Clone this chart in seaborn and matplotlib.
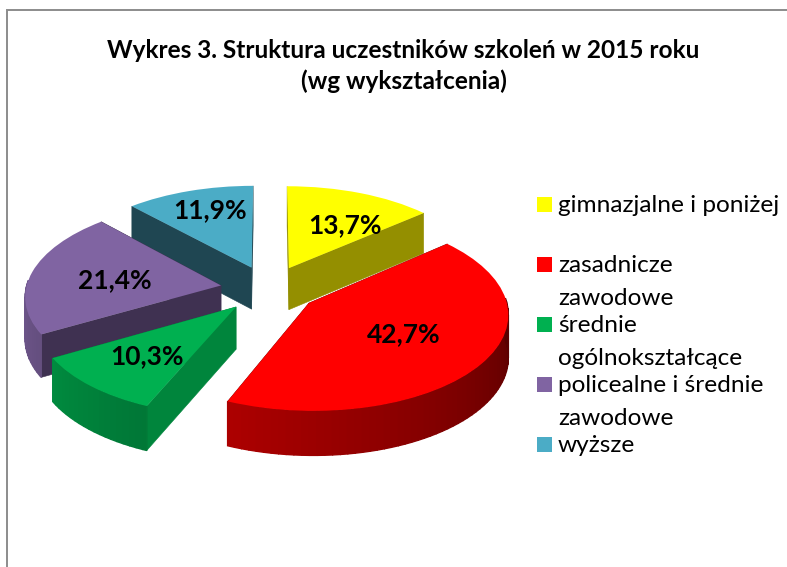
import numpy as np
import matplotlib
matplotlib.use("Agg")
import matplotlib.pyplot as plt
import seaborn as sns
from matplotlib.patches import Rectangle
from matplotlib.transforms import Transform

categories = ["gimnazjalne i poniżej", "zasadnicze zawodowe", "średnie ogólnokształcące",
              "policealne i średnie zawodowe", "wyższe"]
values = [13.7, 42.7, 10.3, 21.4, 11.9]
value_labels = ["13,7%", "42,7%", "10,3%", "21,4%", "11,9%"]
top_colors = ["#ffff00", "#ff0000", "#00b050", "#8064a2", "#4bacc6"]
cut_colors = ["#948f00", "#800000", "#00853c", "#3f3151", "#1f4652"]

# legend rows, wrapped the way the original wraps them
legend_rows = [["gimnazjalne i poniżej"], ["zasadnicze", "zawodowe"], ["średnie", "ogólnokształcące"],
               ["policealne i średnie", "zawodowe"], ["wyższe"]]
legend_y = [212, 272, 332, 392, 452]
# where the value labels sit: distance from the pie centre, degrees clockwise off the slice middle
label_r = [0.864, 0.79, 0.871, 0.81, 1.0]
label_turn = [4.4, -2.7, 0.5, -0.2, 2.0]

sns.set_theme(style="white")
plt.rcParams["font.family"] = ["Lato", "DejaVu Sans"]
palette = sns.color_palette(top_colors)


class TiltedPie(Transform):
    # pie plane -> pixel position, back of the pie is a bit smaller
    input_dims = 2
    output_dims = 2
    is_separable = False
    has_inverse = False
    cx, cy, rx, ry, p, depth = 269, 289, 195, 94, 0.10, 42

    def transform_non_affine(self, xy):
        xy = np.asarray(xy, dtype=float)
        s = 1 / (1 + self.p * xy[:, 1])
        return np.column_stack([self.cx + self.rx * xy[:, 0] * s, self.cy - self.ry * xy[:, 1] * s])

    def drop(self, xy):
        return self.depth / (1 + 0.05 * np.asarray(xy)[:, 1])


tilt = TiltedPie()

fig = plt.figure(figsize=(7.87, 5.67), dpi=100)
ax = fig.add_axes([0, 0, 1, 1])

wedges, _ = ax.pie(values, explode=[0.25] * 5, startangle=90, counterclock=False, colors=palette,
                   radius=1, wedgeprops={"linewidth": 0})
ax.set_aspect("auto")
ax.set_xlim(0, 787)
ax.set_ylim(567, 0)
ax.axis("off")


def side(points, color, z, lw=0.4):
    top = tilt.transform_non_affine(points)
    low = top + np.column_stack([np.zeros(len(top)), tilt.drop(points)])
    outline = np.vstack([top, low[::-1]])
    ax.fill(outline[:, 0], outline[:, 1], color=color, lw=lw, zorder=z)


def arc_shade(th):
    # side of the pie gets lighter going clockwise from the right to the left
    return np.clip(0.35 + (((90 - th) % 360) - 90) * 0.0029, 0.3, 0.9)


mids = [np.radians((w.theta1 + w.theta2) / 2) for w in wedges]
order = np.argsort([-np.sin(m) for m in mids])

for z, i in enumerate(order):
    w = wedges[i]
    base = 10 + z * 10
    c = np.array(w.center)
    # the two cut faces
    for th in (w.theta1, w.theta2):
        a = np.radians(th)
        pts = np.array([c, c + [np.cos(a), np.sin(a)]])
        side(pts, cut_colors[i], base)
    # outer rim in short pieces so it can be shaded, only the part facing the viewer
    ths = np.arange(w.theta1, w.theta2 + 2, 2.0)
    ths[-1] = w.theta2
    rgb = np.array(matplotlib.colors.to_rgb(top_colors[i]))
    for t0, t1 in zip(ths[:-1], ths[1:]):
        if np.sin(np.radians((t0 + t1) / 2)) > 0.05:
            continue
        a = np.radians([t0, t1])
        pts = c + np.column_stack([np.cos(a), np.sin(a)])
        side(pts, tuple(rgb * arc_shade((t0 + t1) / 2)), base + 1, lw=1.0)
    w.set_transform(tilt + ax.transData)
    w.set_zorder(base + 2)

# value labels
for i, w in enumerate(wedges):
    a = mids[i] - np.radians(label_turn[i])
    xy = tilt.transform_non_affine(np.array([[label_r[i] * np.cos(a), label_r[i] * np.sin(a)]]))[0]
    ax.text(xy[0], xy[1], value_labels[i], ha="center", va="center_baseline", fontsize=19,
            fontweight="bold", color="black", zorder=200)

# title
ax.text(403, 58, "Wykres 3. Struktura uczestników szkoleń w 2015 roku", ha="center", va="baseline",
        fontsize=17.6, fontweight="bold", color="black")
ax.text(404, 89, "(wg wykształcenia)", ha="center", va="baseline", fontsize=17.6, fontweight="bold",
        color="black")

# legend
for i, rows in enumerate(legend_rows):
    ax.add_patch(Rectangle((537, legend_y[i] - 15), 15, 15, color=palette[i], lw=0))
    for j, row in enumerate(rows):
        ax.text(558, legend_y[i] + j * 33, row, ha="left", va="baseline", fontsize=17.6, color="black")

# chart border, only left and top are in the crop
ax.plot([7, 7, 787], [567, 10, 10], color="#8c8c8c", lw=1.4, solid_joinstyle="miter", clip_on=False)

fig.savefig("out.png", dpi=100)
